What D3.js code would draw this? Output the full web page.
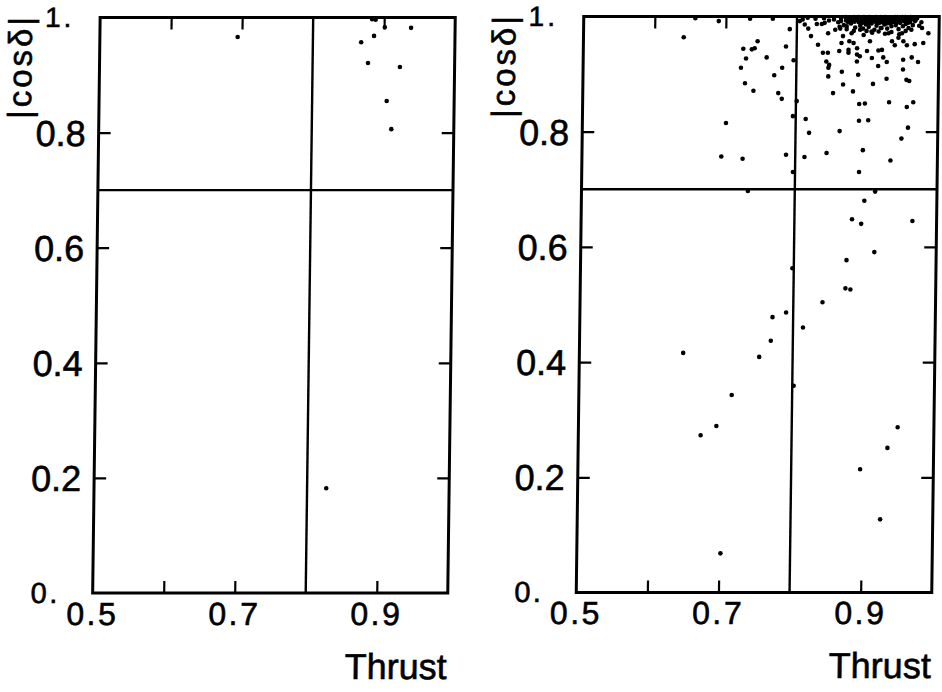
<!DOCTYPE html>
<html><head><meta charset="utf-8">
<script src="https://cdn.jsdelivr.net/npm/d3@7"></script>
<style>
html,body{margin:0;padding:0;background:#fff;}
svg{display:block;}
text{font-family:"Liberation Sans", Arial, sans-serif; fill:#000; stroke:#000; stroke-width:0.6px;}
</style></head><body>
<svg id="chart" width="942" height="692"></svg>
<script>
// ---------------- data ----------------
const xDomain = [0.5, 1.0];
const yDomain = [0, 1];
const xTickValues = [0.6, 0.7, 0.9];
const xLabelValues = [0.5, 0.7, 0.9];
const xTickLabels = ["0.5", "0.7", "0.9"];
const yTickValues = [0.2, 0.4, 0.6, 0.8];
const yTickLabels = ["0.2", "0.4", "0.6", "0.8"];
const yEndLabels = ["0.", "1."];
const thrustCut = 0.8;
const cosCut = 0.7;
const xTitle = "Thrust";
const yTitle = "|cosδ|";

// left panel events: [thrust, |cos delta|]
const leftPoints = [
  [0.694,0.966],[0.868,0.957],[0.886,0.968],[0.901,0.983],[0.938,0.982],
  [0.878,0.921],[0.923,0.914],[0.905,0.855],[0.912,0.806],[0.827,0.182],
  [0.888,0.996],[0.883,0.997]
];

// right panel events: [thrust, |cos delta|]
const rightPoints = [
  [0.641,0.964],[0.690,0.992],[0.725,0.944],[0.745,0.957],[0.741,0.945],[0.737,0.943],
  [0.729,0.927],[0.758,0.929],[0.722,0.911],[0.785,0.948],[0.790,0.978],[0.796,0.924],
  [0.780,0.911],[0.769,0.898],[0.728,0.884],[0.740,0.871],[0.775,0.867],[0.780,0.857],
  [0.796,0.827],[0.702,0.815],[0.696,0.757],[0.726,0.753],[0.787,0.760],[0.797,0.730],
  [0.734,0.996],[0.766,0.996],[0.657,0.997],[0.801,0.853],[0.734,0.697],
  [0.804,0.992],[0.811,0.986],[0.816,0.979],[0.820,0.966],[0.828,0.987],[0.835,0.987],
  [0.839,0.989],[0.844,0.971],[0.854,0.977],[0.861,0.979],[0.865,0.966],[0.863,0.954],
  [0.874,0.957],[0.880,0.954],[0.885,0.945],[0.873,0.942],[0.873,0.937],[0.830,0.951],
  [0.837,0.937],[0.844,0.937],[0.860,0.940],[0.885,0.934],[0.889,0.931],[0.899,0.940],
  [0.906,0.928],[0.915,0.941],[0.920,0.942],[0.922,0.929],[0.934,0.957],[0.938,0.950],
  [0.950,0.957],[0.955,0.950],[0.966,0.952],[0.978,0.954],[0.976,0.980],[0.985,0.971],
  [0.961,0.977],[0.948,0.971],[0.943,0.963],[0.929,0.971],[0.919,0.980],[0.905,0.974],
  [0.894,0.968],[0.889,0.977],[0.903,0.957],[0.877,0.971],[0.870,0.983],[0.842,0.922],
  [0.846,0.916],[0.845,0.911],[0.885,0.922],[0.915,0.914],[0.927,0.921],[0.950,0.925],
  [0.962,0.929],[0.971,0.921],[0.950,0.908],[0.864,0.904],[0.887,0.899],[0.845,0.896],
  [0.908,0.883],[0.927,0.892],[0.955,0.890],[0.959,0.888],[0.866,0.882],[0.852,0.867],
  [0.880,0.870],[0.889,0.848],[0.897,0.849],[0.931,0.851],[0.956,0.843],[0.965,0.851],
  [0.814,0.822],[0.819,0.798],[0.862,0.801],[0.889,0.819],[0.902,0.820],[0.958,0.807],
  [0.949,0.788],[0.813,0.756],[0.844,0.763],[0.895,0.768],[0.934,0.750],[0.890,0.730],
  [0.913,0.696],[0.898,0.680],[0.881,0.648],[0.894,0.640],[0.966,0.645],[0.913,0.591],
  [0.874,0.577],[0.798,0.563],[0.873,0.528],[0.880,0.526],[0.841,0.504],[0.790,0.486],
  [0.771,0.478],[0.814,0.460],[0.769,0.437],[0.753,0.409],[0.646,0.416],[0.802,0.359],
  [0.715,0.343],[0.694,0.289],[0.672,0.273],[0.949,0.287],[0.935,0.251],[0.897,0.214],
  [0.926,0.127],[0.702,0.068],
  // dense cluster near |cos delta| = 1
  [0.852,0.995],[0.858,0.990],[0.862,0.997],[0.866,0.985],[0.869,0.993],[0.873,0.998],
  [0.876,0.988],[0.879,0.994],[0.882,0.981],[0.884,0.997],[0.887,0.990],[0.889,0.984],
  [0.891,0.996],[0.893,0.979],[0.895,0.992],[0.897,0.986],[0.899,0.998],[0.901,0.982],
  [0.903,0.994],[0.905,0.988],[0.907,0.997],[0.909,0.977],[0.910,0.991],[0.912,0.984],
  [0.914,0.996],[0.916,0.989],[0.918,0.980],[0.919,0.993],[0.921,0.998],[0.923,0.986],
  [0.925,0.992],[0.927,0.979],[0.929,0.995],[0.931,0.988],[0.933,0.983],[0.935,0.997],
  [0.937,0.991],[0.939,0.985],[0.941,0.994],[0.943,0.978],[0.945,0.989],[0.947,0.996],
  [0.949,0.983],[0.951,0.992],[0.953,0.987],[0.955,0.998],[0.957,0.980],[0.959,0.990],
  [0.961,0.995],[0.963,0.985],[0.966,0.992],[0.969,0.997],[0.972,0.984],[0.975,0.990],
  [0.898,0.975],[0.906,0.972],[0.915,0.974],[0.924,0.970],[0.933,0.973],[0.944,0.969],
  [0.953,0.975],[0.880,0.975],[0.870,0.978],[0.860,0.982],[0.845,0.993],[0.838,0.997],
  [0.826,0.996],[0.815,0.998],[0.808,0.995],[0.886,0.999],[0.918,0.999],[0.948,0.999],
  [0.862,0.992],[0.868,0.999],[0.872,0.990],[0.877,0.996],[0.881,0.991],[0.885,0.994],
  [0.888,0.997],[0.892,0.989],[0.894,0.999],[0.898,0.993],[0.900,0.988],[0.902,0.999],
  [0.904,0.991],[0.908,0.994],[0.911,0.999],[0.913,0.989],[0.917,0.995],[0.920,0.990],
  [0.922,0.994],[0.924,0.999],[0.926,0.988],[0.928,0.991],[0.930,0.998],[0.932,0.993],
  [0.934,0.990],[0.936,0.994],[0.938,0.999],[0.940,0.989],[0.942,0.997],[0.944,0.993],
  [0.946,0.991],[0.950,0.997],[0.952,0.999],[0.954,0.993],[0.956,0.989],[0.958,0.995],
  [0.960,0.999],[0.964,0.997],[0.967,0.994],[0.896,0.996],[0.906,0.996],[0.915,0.992],
  [0.927,0.996],[0.941,0.999],[0.880,0.999],[0.890,0.993],[0.875,0.993]
];

// ---------------- layout ----------------
const panels = [
  {points: leftPoints,  x0: 96.4, x1: 451.5, y0: 593,   y1: 17.5},
  {points: rightPoints, x0: 580,  x1: 935.5, y0: 592.5, y1: 16.5}
];
const skewCenter = 305;
const skewDeg = -0.745;

const svg = d3.select("#chart");
svg.append("rect").attr("width", 942).attr("height", 692).attr("fill", "#fff");

panels.forEach(P => {
  const x = d3.scaleLinear().domain(xDomain).range([P.x0, P.x1]);
  const y = d3.scaleLinear().domain(yDomain).range([P.y0, P.y1]);
  const g = svg.append("g")
    .attr("transform", `translate(0,${skewCenter}) skewX(${skewDeg}) translate(0,${-skewCenter})`);

  const styleAxis = a => {
    a.select(".domain").remove();
    a.selectAll(".tick line").attr("stroke", "#000").attr("stroke-width", 2.2);
    a.selectAll(".tick text").remove();
  };
  g.append("g").attr("transform", `translate(0,${y(0)})`)
    .call(d3.axisBottom(x).tickValues(xTickValues).tickSize(-12).tickFormat(""))
    .call(styleAxis);
  g.append("g").attr("transform", `translate(0,${y(1)})`)
    .call(d3.axisTop(x).tickValues(xTickValues).tickSize(-12).tickFormat(""))
    .call(styleAxis);
  g.append("g").attr("transform", `translate(${x(0.5)},0)`)
    .call(d3.axisLeft(y).tickValues(yTickValues).tickSize(-12).tickFormat(""))
    .call(styleAxis);
  g.append("g").attr("transform", `translate(${x(1)},0)`)
    .call(d3.axisRight(y).tickValues(yTickValues).tickSize(-12).tickFormat(""))
    .call(styleAxis);

  // cut lines
  g.append("line").attr("x1", x(thrustCut)).attr("x2", x(thrustCut))
    .attr("y1", y(0)).attr("y2", y(1)).attr("stroke", "#000").attr("stroke-width", 2.4);
  g.append("line").attr("x1", x(0.5)).attr("x2", x(1))
    .attr("y1", y(cosCut)).attr("y2", y(cosCut)).attr("stroke", "#000").attr("stroke-width", 2.4);

  // frame
  g.append("rect").attr("x", x(0.5)).attr("y", y(1))
    .attr("width", x(1) - x(0.5)).attr("height", y(0) - y(1))
    .attr("fill", "none").attr("stroke", "#000").attr("stroke-width", 3);

  // points
  g.append("g").selectAll("circle").data(P.points).join("circle")
    .attr("cx", d => x(d[0])).attr("cy", d => y(d[1])).attr("r", 2.3).attr("fill", "#000");

  // y tick labels
  g.append("g").selectAll("text").data(yTickValues).join("text")
    .attr("x", x(0.5) - 13).attr("y", d => y(d)).attr("dy", "0.36em")
    .attr("text-anchor", "end").style("font-size", "36px")
    .text((d, i) => yTickLabels[i]);
  // end labels 0. and 1.
  g.append("text").attr("x", x(0.5) - 62).attr("y", y(0) + 10)
    .style("font-size", "29px").style("letter-spacing", "2.5px").text(yEndLabels[0]);
  g.append("text").attr("x", x(0.5) - 55).attr("y", y(1) + 10)
    .style("font-size", "28px").style("letter-spacing", "3px").text(yEndLabels[1]);

  // x tick labels
  g.append("g").selectAll("text").data(xLabelValues).join("text")
    .attr("x", d => x(d)).attr("y", y(0) + 32)
    .attr("text-anchor", "middle").style("font-size", "32px").style("letter-spacing", "2.5px")
    .text((d, i) => xTickLabels[i]);

  // axis titles
  g.append("text").attr("x", x(1)).attr("y", y(0) + 86)
    .attr("text-anchor", "end").style("font-size", "36px").text(xTitle);
  g.append("text")
    .attr("transform", `translate(${x(0.5) - 68},${y(1) + 49}) rotate(-90)`)
    .attr("text-anchor", "middle").style("font-size", "33px").style("letter-spacing", "3px")
    .text(yTitle);
});
</script>
</body></html>
